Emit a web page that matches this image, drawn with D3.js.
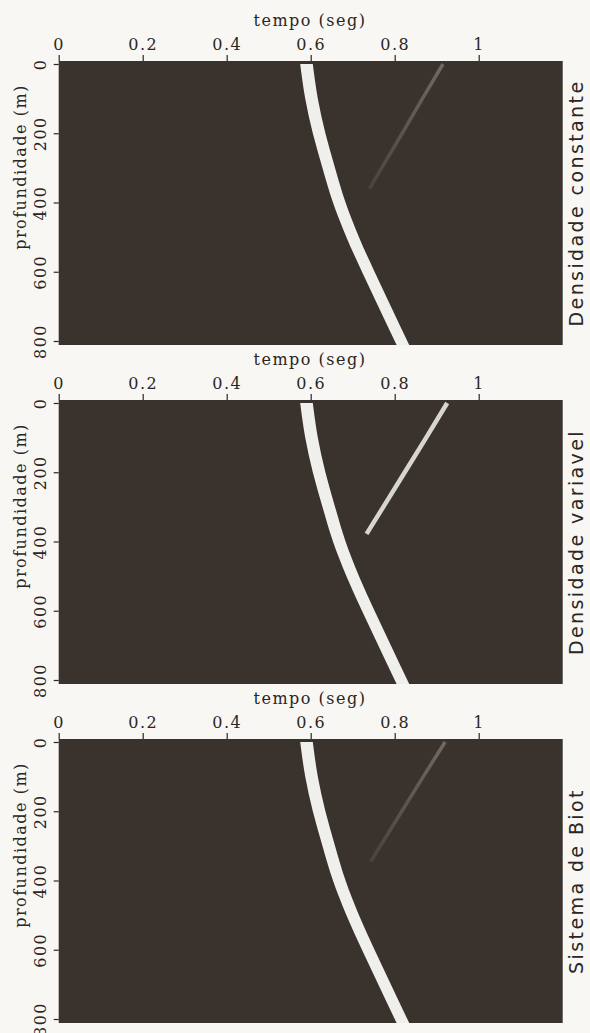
<!DOCTYPE html>
<html>
<head>
<meta charset="utf-8">
<script src="https://cdn.jsdelivr.net/npm/d3@7"></script>
<style>
  body { margin: 0; background: #f8f7f4; }
  .tick text { font-family: "DejaVu Serif", serif; font-size: 16px; letter-spacing: 1.5px; fill: #2b2623; }
  .tick line { stroke: #2b2623; stroke-width: 1.2; }
</style>
</head>
<body>
<div id="chart"></div>
<script>
// panel titles (right side)
var panelTitles = ["Densidade constante", "Densidade variavel", "Sistema de Biot"]

// axis ticks
var timeTicks = [0, 0.2, 0.4, 0.6, 0.8, 1]
var timeTickLabels = ["0", "0.2", "0.4", "0.6", "0.8", "1"]
var depthTicks = [0, 200, 400, 600, 800]
var depthTickLabels = ["0", "200", "400", "600", "800"]

// direct (downgoing) arrival, same in all three panels
var directDepth = [0, 100, 200, 300, 400, 500, 600, 700, 800, 820]
var directTime = [0.590, 0.602, 0.620, 0.643, 0.668, 0.700, 0.737, 0.776, 0.815, 0.823]

// reflected (upgoing) arrival, one per panel
var upDepth1 = [0, 100, 200, 300, 360]
var upTime1 = [0.915, 0.866, 0.818, 0.769, 0.740]
var upDepth2 = [0, 100, 200, 300, 378]
var upTime2 = [0.925, 0.875, 0.824, 0.773, 0.733]
var upDepth3 = [0, 100, 200, 300, 345]
var upTime3 = [0.920, 0.868, 0.817, 0.766, 0.743]

var upDepths = [upDepth1, upDepth2, upDepth3]
var upTimes = [upTime1, upTime2, upTime3]
var upColors = ["#6a635d", "#d6d5d1", "#6a635d"]

var width = 590, height = 1033
var left = 58.7, right = 562.7
var panelH = 284, panelStep = 339, firstTop = 61

var svg = d3.select("#chart")
  .append("svg")
    .attr("width", width)
    .attr("height", height)

// fade for the faint upgoing arrivals
var grad = svg.append("defs").append("linearGradient")
    .attr("id", "fade")
    .attr("x1", 0).attr("y1", 0).attr("x2", 0).attr("y2", 1)
grad.append("stop").attr("offset", "0%").attr("stop-color", "#6f6863")
grad.append("stop").attr("offset", "100%").attr("stop-color", "#4a423d")

var x = d3.scaleLinear().domain([0, 1.2]).range([left, right])

panelTitles.forEach(function(title, i) {
  var top = firstTop + i * panelStep
  var y = d3.scaleLinear().domain([0, 800]).range([top + 3, top + panelH - 4])

  var g = svg.append("g")

  // clip to the panel
  g.append("clipPath")
      .attr("id", "clip" + i)
    .append("rect")
      .attr("x", left).attr("y", top)
      .attr("width", right - left).attr("height", panelH)

  g.append("rect")
    .attr("x", left).attr("y", top)
    .attr("width", right - left).attr("height", panelH)
    .attr("fill", "#3a322d")

  var plot = g.append("g").attr("clip-path", "url(#clip" + i + ")")

  // upgoing arrival
  var up = upDepths[i].map(function(d, k) { return {z: d, t: upTimes[i][k]} })
  plot.append("path")
    .datum(up)
    .attr("d", d3.line()
      .x(function(d) { return x(d.t) })
      .y(function(d) { return y(d.z) }))
    .attr("fill", "none")
    .attr("stroke", i == 1 ? upColors[i] : "url(#fade)")
    .attr("stroke-width", i == 1 ? 4.5 : 3.5)

  // direct arrival as a thick band
  var direct = directDepth.map(function(d, k) { return {z: d, t: directTime[k]} })
  plot.append("path")
    .datum(direct)
    .attr("d", d3.area()
      .curve(d3.curveMonotoneY)
      .y(function(d) { return y(d.z) })
      .x0(function(d) { return x(d.t - 0.015) })
      .x1(function(d) { return x(d.t + 0.015) }))
    .attr("fill", "#efefec")

  // top axis
  var xAxis = d3.axisTop(x)
    .tickValues(timeTicks)
    .tickFormat(function(d, k) { return timeTickLabels[k] })
    .tickSize(6)
    .tickPadding(5)
  var gx = g.append("g")
    .attr("transform", "translate(0," + top + ")")
    .call(xAxis)
  gx.select(".domain").remove()

  // left axis, labels rotated
  var yAxis = d3.axisLeft(y)
    .tickValues(depthTicks)
    .tickFormat(function(d, k) { return depthTickLabels[k] })
    .tickSize(5)
  var gy = g.append("g")
    .attr("transform", "translate(" + left + ",0)")
    .call(yAxis)
  gy.select(".domain").remove()
  gy.selectAll("text")
    .attr("x", 0)
    .attr("dy", 0)
    .attr("text-anchor", "middle")
    .attr("transform", "translate(-13,0) rotate(-90)")

  g.append("text")
    .attr("x", 310)
    .attr("y", top - 35)
    .attr("text-anchor", "middle")
    .style("font-family", "DejaVu Serif, serif")
    .style("font-size", "16px")
    .style("letter-spacing", "1.5px")
    .attr("fill", "#2b2623")
    .text("tempo (seg)")

  g.append("text")
    .attr("text-anchor", "middle")
    .attr("transform", "translate(26," + (top + panelH / 2 - 36) + ") rotate(-90)")
    .style("font-family", "DejaVu Serif, serif")
    .style("font-size", "16px")
    .style("letter-spacing", "1.5px")
    .attr("fill", "#2b2623")
    .text("profundidade (m)")

  g.append("text")
    .attr("text-anchor", "middle")
    .attr("transform", "translate(583," + (top + panelH / 2) + ") rotate(-90)")
    .style("font-family", "DejaVu Sans, sans-serif")
    .style("font-size", "19px")
    .style("letter-spacing", "2.4px")
    .attr("fill", "#2b2623")
    .text(title)
})
</script>
</body>
</html>
